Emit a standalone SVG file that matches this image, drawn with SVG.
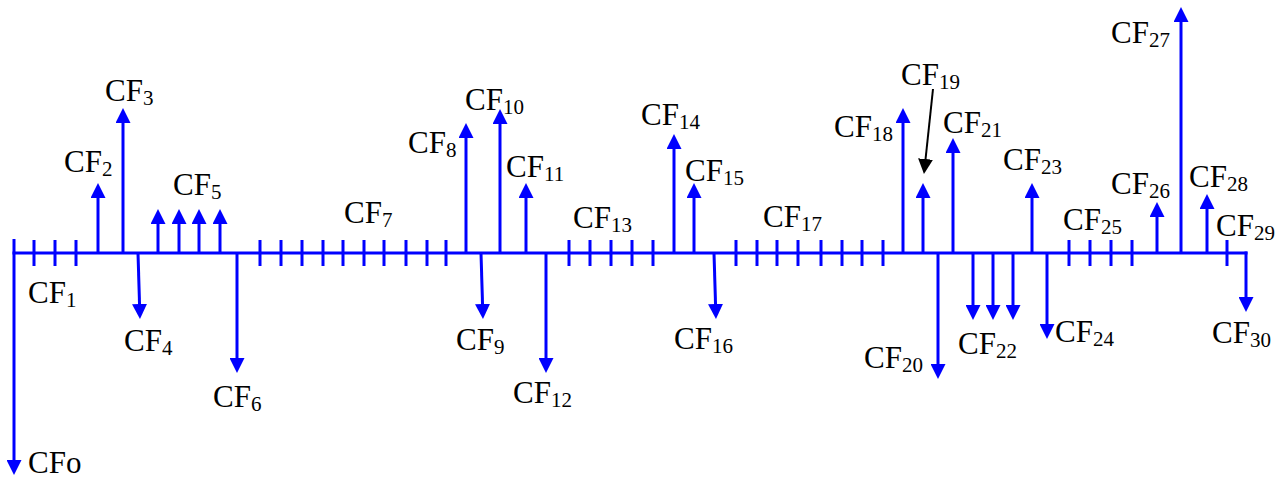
<svg xmlns="http://www.w3.org/2000/svg" width="1284" height="479" viewBox="0 0 1284 479">
<defs>
<marker id="ah" markerUnits="userSpaceOnUse" markerWidth="15" markerHeight="15" refX="9" refY="7.5" orient="auto" viewBox="0 0 15 15"><path d="M0,0 L15,7.5 L0,15 z" fill="#0000ff"/></marker>
<marker id="ahk" markerUnits="userSpaceOnUse" markerWidth="15" markerHeight="15" refX="9" refY="7.5" orient="auto" viewBox="0 0 15 15"><path d="M0,0 L15,7.5 L0,15 z" fill="#000"/></marker>
</defs>
<style>
.ax{stroke:#0000ff;stroke-width:3;fill:none}
.a{stroke:#0000ff;stroke-width:3;fill:none;marker-end:url(#ah)}
.k{stroke:#000;stroke-width:2;fill:none;marker-end:url(#ahk)}
text{font-family:"Liberation Serif","Times New Roman",serif;font-size:31px;fill:#000}
.s{font-size:21px}
</style>
<g id="connectors">
<g id="axis">
<line class="ax" x1="12.5" y1="253" x2="1247.5" y2="253"/>
<path class="ax" d="M34,240V266M55,240V266M76,240V266M260,240V266M281,240V266M302,240V266M323,240V266M343,240V266M364,240V266M384,240V266M406,240V266M427,240V266M446,240V266M569,240V266M590,240V266M611,240V266M632,240V266M653,240V266M736,240V266M757,240V266M777,240V266M798,240V266M821,240V266M842,240V266M862,240V266M883,240V266M1069,240V266M1090,240V266M1111,240V266M1132,240V266M1227,240V266"/>
</g>
</g>
<g id="cf0"><line class="a" x1="14" y1="239" x2="14" y2="469"/><text x="28" y="473">CFo</text></g>
<g id="cf1"><text x="28" y="303">CF<tspan class="s" dy="4">1</tspan></text></g>
<g id="cf2"><line class="a" x1="98" y1="253" x2="98" y2="189"/><text x="64" y="172">CF<tspan class="s" dy="4">2</tspan></text></g>
<g id="cf3"><line class="a" x1="123" y1="253" x2="123" y2="114"/><text x="105" y="101">CF<tspan class="s" dy="4">3</tspan></text></g>
<g id="cf4"><line class="a" x1="138" y1="253" x2="139.8" y2="313"/><text x="124" y="351">CF<tspan class="s" dy="4">4</tspan></text></g>
<g id="cf5"><line class="a" x1="158" y1="253" x2="158" y2="215"/><line class="a" x1="179" y1="253" x2="179" y2="215"/><line class="a" x1="199" y1="253" x2="199" y2="215"/><line class="a" x1="220" y1="253" x2="220" y2="215"/><text x="173" y="195">CF<tspan class="s" dy="4">5</tspan></text></g>
<g id="cf6"><line class="a" x1="237" y1="253" x2="237" y2="367"/><text x="213" y="407">CF<tspan class="s" dy="4">6</tspan></text></g>
<g id="cf7"><text x="344" y="223">CF<tspan class="s" dy="4">7</tspan></text></g>
<g id="cf8"><line class="a" x1="466" y1="253" x2="466" y2="129"/><text x="408" y="153">CF<tspan class="s" dy="4">8</tspan></text></g>
<g id="cf9"><line class="a" x1="481" y1="253" x2="482.8" y2="313"/><text x="456" y="350">CF<tspan class="s" dy="4">9</tspan></text></g>
<g id="cf10"><line class="a" x1="500" y1="253" x2="500" y2="115"/><text x="465" y="110">CF<tspan class="s" dy="4">10</tspan></text></g>
<g id="cf11"><line class="a" x1="526" y1="253" x2="526" y2="189"/><text x="506" y="177">CF<tspan class="s" dy="4">11</tspan></text></g>
<g id="cf12"><line class="a" x1="546" y1="253" x2="546" y2="367"/><text x="513" y="403">CF<tspan class="s" dy="4">12</tspan></text></g>
<g id="cf13"><text x="573" y="228">CF<tspan class="s" dy="4">13</tspan></text></g>
<g id="cf14"><line class="a" x1="674" y1="253" x2="674" y2="140"/><text x="641" y="125">CF<tspan class="s" dy="4">14</tspan></text></g>
<g id="cf15"><line class="a" x1="694" y1="253" x2="694" y2="189"/><text x="685" y="181">CF<tspan class="s" dy="4">15</tspan></text></g>
<g id="cf16"><line class="a" x1="714" y1="253" x2="715.8" y2="313"/><text x="674" y="349">CF<tspan class="s" dy="4">16</tspan></text></g>
<g id="cf17"><text x="763" y="227">CF<tspan class="s" dy="4">17</tspan></text></g>
<g id="cf18"><line class="a" x1="903" y1="253" x2="903" y2="114"/><text x="834" y="137">CF<tspan class="s" dy="4">18</tspan></text></g>
<g id="cf19"><line class="a" x1="923" y1="253" x2="923" y2="189"/><line class="k" x1="933" y1="89" x2="924.6" y2="168"/><text x="901" y="85">CF<tspan class="s" dy="4">19</tspan></text></g>
<g id="cf20"><line class="a" x1="938" y1="253" x2="938" y2="373"/><text x="864" y="368">CF<tspan class="s" dy="4">20</tspan></text></g>
<g id="cf21"><line class="a" x1="953" y1="253" x2="953" y2="144"/><text x="943" y="133">CF<tspan class="s" dy="4">21</tspan></text></g>
<g id="cf22"><line class="a" x1="973" y1="253" x2="973" y2="314"/><line class="a" x1="993" y1="253" x2="993" y2="314"/><line class="a" x1="1013" y1="253" x2="1013" y2="314"/><text x="958" y="354">CF<tspan class="s" dy="4">22</tspan></text></g>
<g id="cf23"><line class="a" x1="1032" y1="253" x2="1032" y2="189"/><text x="1003" y="170">CF<tspan class="s" dy="4">23</tspan></text></g>
<g id="cf24"><line class="a" x1="1047" y1="253" x2="1047" y2="333"/><text x="1055" y="342">CF<tspan class="s" dy="4">24</tspan></text></g>
<g id="cf25"><text x="1063" y="230">CF<tspan class="s" dy="4">25</tspan></text></g>
<g id="cf26"><line class="a" x1="1157" y1="253" x2="1157" y2="208"/><text x="1111" y="194">CF<tspan class="s" dy="4">26</tspan></text></g>
<g id="cf27"><line class="a" x1="1181" y1="253" x2="1181" y2="13"/><text x="1111" y="43">CF<tspan class="s" dy="4">27</tspan></text></g>
<g id="cf28"><line class="a" x1="1207" y1="253" x2="1207" y2="200"/><text x="1189" y="187">CF<tspan class="s" dy="4">28</tspan></text></g>
<g id="cf29"><text x="1216" y="236">CF<tspan class="s" dy="4">29</tspan></text></g>
<g id="cf30"><line class="a" x1="1246" y1="251.5" x2="1246" y2="306"/><text x="1212" y="343">CF<tspan class="s" dy="4">30</tspan></text></g>
</svg>
